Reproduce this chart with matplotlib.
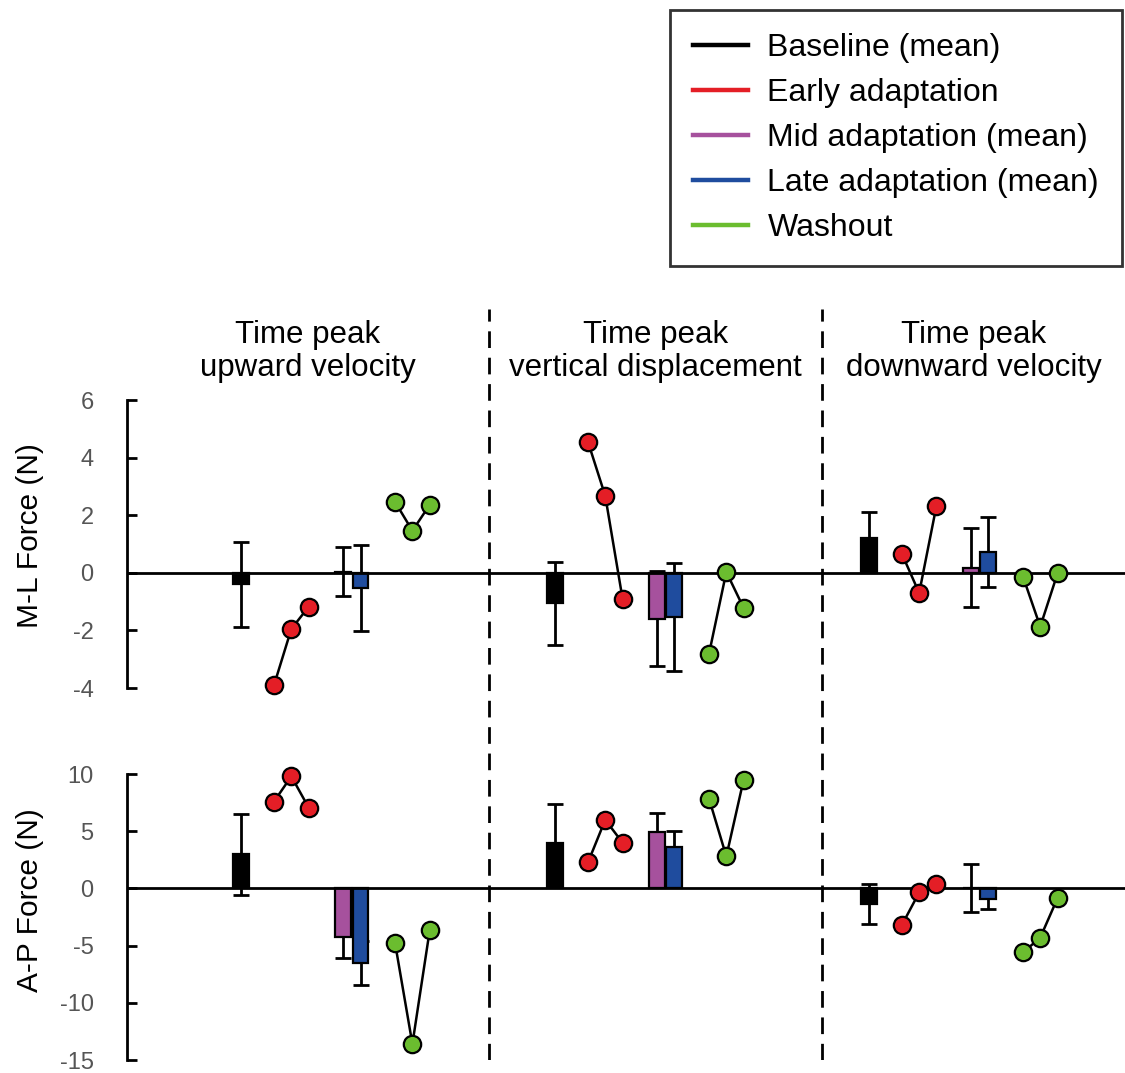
import matplotlib
matplotlib.use('Agg')
import matplotlib.pyplot as plt
from matplotlib.lines import Line2D

plt.rcParams['font.family'] = ['Liberation Sans', 'DejaVu Sans']
plt.rcParams['axes.unicode_minus'] = False

# data (N)
groups = ['Time peak\nupward velocity', 'Time peak\nvertical displacement', 'Time peak\ndownward velocity']
series = ['Baseline (mean)', 'Early adaptation', 'Mid adaptation (mean)', 'Late adaptation (mean)', 'Washout']
colors = ['#000000', '#E41E26', '#A6519D', '#1F4C9E', '#6BBD2F']

ml_base = [-0.4, -1.05, 1.2]
ml_base_err = [1.48, 1.44, 0.9]
ml_early = [[-3.9, -1.95, -1.18], [4.55, 2.67, -0.9], [0.66, -0.7, 2.33]]
ml_mid = [0.03, -1.6, 0.18]
ml_mid_err = [0.85, 1.65, 1.37]
ml_late = [-0.52, -1.53, 0.73]
ml_late_err = [1.49, 1.88, 1.21]
ml_wash = [[2.46, 1.46, 2.36], [-2.81, 0.03, -1.22], [-0.13, -1.87, -0.02]]

ap_base = [3.0, 4.0, -1.36]
ap_base_err = [3.55, 3.4, 1.78]
ap_early = [[7.6, 9.8, 7.07], [2.27, 6.0, 4.0], [-3.2, -0.35, 0.35]]
ap_mid = [-4.25, 4.9, 0.08]
ap_mid_err = [1.85, 1.7, 2.1]
ap_late = [-6.5, 3.6, -0.96]
ap_late_err = [1.9, 1.45, 0.87]
ap_wash = [[-4.8, -13.6, -3.67], [7.85, 2.8, 9.5], [-5.6, -4.3, -0.85]]

# x layout (arbitrary units)
group_step = 18.15
pos_base = 0.0
pos_early = [1.9, 2.9, 3.9]
pos_mid = 5.9
pos_late = 6.9
pos_wash = [8.9, 9.9, 10.9]
separators = [14.3, 33.6]
xlim = (-6.6, 51.1)
bar_w = 0.92

fig = plt.figure(figsize=(11.25, 10.73), dpi=100)
ax_ml = fig.add_axes([0.1129, 0.3588, 0.8871, 0.2684])
ax_ap = fig.add_axes([0.1129, 0.0121, 0.8871, 0.2665])


def draw_panel(ax, base, base_err, early, mid, mid_err, late, late_err, wash):
    for g in range(3):
        off = g * group_step
        bx = [off + pos_base, off + pos_mid, off + pos_late]
        vals = [base[g], mid[g], late[g]]
        errs = [base_err[g], mid_err[g], late_err[g]]
        cols = [colors[0], colors[2], colors[3]]
        ax.errorbar(bx, vals, yerr=errs, fmt='none', ecolor='black',
                    elinewidth=2, capsize=6, capthick=2, zorder=2)
        ax.bar(bx, vals, width=bar_w, color=cols, edgecolor='black',
               linewidth=1.6, zorder=3)
        ax.plot([off + p for p in pos_early], early[g], '-o', color='black',
                lw=1.8, ms=12.5, mfc=colors[1], mec='black', mew=1.6,
                zorder=5, clip_on=False)
        ax.plot([off + p for p in pos_wash], wash[g], '-o', color='black',
                lw=1.8, ms=12.5, mfc=colors[4], mec='black', mew=1.6,
                zorder=5, clip_on=False)
    ax.axhline(0, color='black', lw=2, zorder=4)
    ax.set_xlim(*xlim)
    for s in ['top', 'right', 'bottom']:
        ax.spines[s].set_visible(False)
    ax.spines['left'].set_linewidth(2)
    ax.set_xticks([])
    ax.tick_params(axis='y', direction='in', length=7.5, width=2,
                   labelsize=17, labelcolor='#555555', pad=24)


draw_panel(ax_ml, ml_base, ml_base_err, ml_early, ml_mid, ml_mid_err,
           ml_late, ml_late_err, ml_wash)
ax_ml.set_ylim(-4, 6)
ax_ml.set_yticks([-4, -2, 0, 2, 4, 6])
ax_ml.set_ylabel('M-L Force (N)', fontsize=21.5)
ax_ml.yaxis.set_label_coords(-0.083, 0.53)

draw_panel(ax_ap, ap_base, ap_base_err, ap_early, ap_mid, ap_mid_err,
           ap_late, ap_late_err, ap_wash)
ax_ap.set_ylim(-15, 10)
ax_ap.set_yticks([-15, -10, -5, 0, 5, 10])
ax_ap.set_ylabel('A-P Force (N)', fontsize=21.5)
ax_ap.yaxis.set_label_coords(-0.083, 0.56)

# overlay for dashed separators and group titles
ov = fig.add_axes([0.1129, 0.0121, 0.8871, 0.7000])
ov.set_xlim(*xlim)
ov.set_ylim(0, 1)
ov.axis('off')
for s in separators:
    ov.axvline(s, ymin=0, ymax=1, color='black', lw=2, dashes=(6, 3.5))
bounds = [xlim[0]] + separators + [xlim[1]]
for g, title in enumerate(groups):
    ov.text((bounds[g] + bounds[g + 1]) / 2, 0.985, title, ha='center',
            va='top', fontsize=22.5, linespacing=1.12)

handles = [Line2D([], [], color=c, lw=3.2) for c in colors]
leg = fig.legend(handles, series, loc='upper right',
                 bbox_to_anchor=(1122 / 1125, 1 - 10 / 1073),
                 fontsize=23, frameon=True, fancybox=False,
                 handlelength=1.72, handletextpad=0.62, labelspacing=0.47,
                 borderpad=0.72, borderaxespad=0)
leg.get_frame().set_edgecolor('black')
leg.get_frame().set_linewidth(2)

fig.savefig('out.png', dpi=100)
